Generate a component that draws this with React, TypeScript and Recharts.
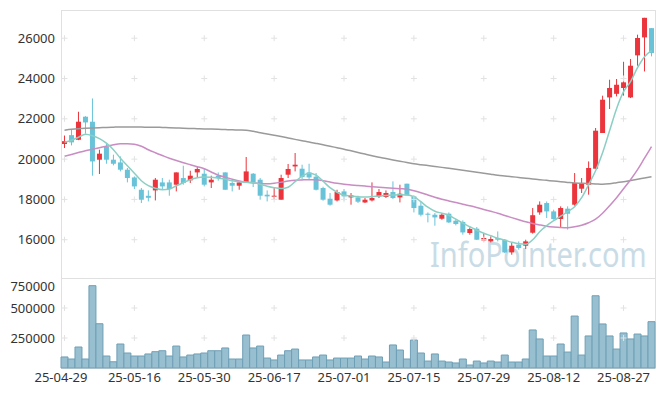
import React from 'react';
import { ComposedChart, Bar, Line, XAxis, YAxis, ReferenceDot } from 'recharts';

const dates = [
  '25-04-29', '25-04-30', '25-05-02', '25-05-07', '25-05-08', '25-05-09', '25-05-12', '25-05-13', '25-05-14', '25-05-15',
  '25-05-16', '25-05-19', '25-05-20', '25-05-21', '25-05-22', '25-05-23', '25-05-26', '25-05-27', '25-05-28', '25-05-29',
  '25-05-30', '25-06-02', '25-06-04', '25-06-05', '25-06-09', '25-06-10', '25-06-11', '25-06-12', '25-06-13', '25-06-16',
  '25-06-17', '25-06-18', '25-06-19', '25-06-20', '25-06-23', '25-06-24', '25-06-25', '25-06-26', '25-06-27', '25-06-30',
  '25-07-01', '25-07-02', '25-07-03', '25-07-04', '25-07-07', '25-07-08', '25-07-09', '25-07-10', '25-07-11', '25-07-14',
  '25-07-15', '25-07-16', '25-07-17', '25-07-18', '25-07-21', '25-07-22', '25-07-23', '25-07-24', '25-07-25', '25-07-28',
  '25-07-29', '25-07-30', '25-07-31', '25-08-01', '25-08-04', '25-08-05', '25-08-06', '25-08-07', '25-08-08', '25-08-11',
  '25-08-12', '25-08-13', '25-08-14', '25-08-18', '25-08-19', '25-08-20', '25-08-21', '25-08-22', '25-08-25', '25-08-26',
  '25-08-27', '25-08-28', '25-08-29', '25-09-01', '25-09-02',
];

const opens = [
  20750, 21190, 20960, 22105, 21856, 19970, 20630, 19970, 19836, 19474,
  19090, 18480, 18180, 18447, 18844, 18844, 18730, 19060, 18945, 19340,
  19275, 18845, 19176, 19340, 18815, 18680, 18845, 19275, 18978, 18233,
  18150, 17985, 19226, 19637, 19524, 19340, 19130, 18565, 18035, 17950,
  18397, 18100, 18100, 17850, 17950, 18150, 18120, 18367, 18100, 18780,
  18150, 17687, 17290, 17240, 17042, 17290, 16943, 16880, 16332, 16546,
  15965, 15915, 16085, 16000, 15370, 15752, 15702, 16347, 17355, 17820,
  17405, 17027, 17540, 17737, 18530, 18730, 19524, 21296, 23062, 23240,
  23530, 23062, 25150, 26040, 26500,
];
const highs = [
  21170, 21490, 22350, 22130, 23010, 20467, 20800, 20220, 20134, 19560,
  19140, 18565, 18450, 19062, 19060, 18978, 19340, 19672, 19424, 19640,
  19510, 19176, 19340, 19340, 18895, 18895, 20105, 19310, 19062, 18447,
  18565, 19226, 19757, 20303, 19722, 19770, 19310, 18630, 18318, 18480,
  18516, 18318, 18184, 18070, 18845, 18516, 18447, 18895, 18730, 18780,
  18200, 17900, 17355, 17325, 17325, 17355, 17027, 16960, 16610, 16630,
  16330, 16165, 16410, 16035, 15836, 15915, 16000, 17573, 17900, 17900,
  17490, 17655, 17655, 19310, 19062, 19886, 21544, 23147, 23940, 23975,
  24830, 24970, 26175, 27012, 26500,
];
const lows = [
  20550, 20680, 20940, 21260, 19176, 19260, 19770, 19690, 19390, 18845,
  18516, 17820, 17900, 17950, 18480, 18184, 18397, 18730, 18815, 19100,
  18645, 18565, 18930, 18480, 18397, 18480, 18815, 18615, 17985, 17900,
  17985, 17985, 19062, 19390, 18978, 18978, 18447, 17935, 17687, 17900,
  17945, 17737, 17820, 17820, 17900, 18070, 18070, 18020, 17850, 18200,
  17355, 17156, 16860, 16695, 16990, 16830, 16710, 16250, 16250, 15985,
  15915, 15865, 15915, 15340, 15255, 15505, 15540, 16300, 17240, 17077,
  16990, 16580, 16500, 17687, 18318, 18233, 19524, 21296, 22486, 23110,
  23150, 23030, 24635, 24350, 25100,
];
const closes = [
  20890, 20830, 21856, 21820, 19885, 20270, 19970, 19770, 19474, 19062,
  18645, 17985, 18080, 18978, 18645, 18516, 19340, 18815, 19176, 19510,
  18730, 18978, 19062, 18480, 18680, 18845, 19390, 18845, 18184, 18150,
  18184, 19062, 19510, 19722, 19110, 19090, 18480, 17985, 17737, 18367,
  18150, 18200, 17886, 17985, 18070, 18367, 18318, 18070, 18283, 18200,
  17573, 17240, 17240, 17107, 17240, 16860, 16780, 16362, 16530, 16000,
  16085, 16035, 16000, 15370, 15702, 15590, 15915, 17216, 17737, 17405,
  17027, 17573, 17290, 18815, 18780, 19560, 21410, 22948, 23530, 23690,
  23810, 24635, 26010, 27012, 25265,
];
const volumes = [
  92000, 75000, 175000, 75000, 686000, 369000, 100000, 52000, 200000, 125000,
  100000, 100000, 117000, 136000, 144000, 100000, 183000, 92000, 108000, 117000,
  125000, 144000, 144000, 167000, 75000, 75000, 275000, 167000, 183000, 83000,
  67000, 108000, 144000, 158000, 67000, 67000, 92000, 108000, 67000, 83000,
  83000, 83000, 100000, 75000, 100000, 92000, 50000, 192000, 150000, 75000,
  233000, 125000, 58000, 117000, 58000, 50000, 42000, 75000, 25000, 58000,
  42000, 58000, 50000, 108000, 50000, 50000, 75000, 317000, 242000, 100000,
  100000, 200000, 133000, 433000, 108000, 267000, 602000, 367000, 267000, 158000,
  292000, 242000, 283000, 267000, 386000,
];
const ma5 = [
  20839, 20938, 21087, 21236, 21162, 21013, 20789, 20467, 20045, 19673,
  19300, 18928, 18680, 18556, 18482, 18506, 18680, 18829, 18978, 19077,
  19112, 19102, 19052, 19003, 18928, 18879, 18854, 18829, 18754, 18655,
  18581, 18541, 18606, 18879, 19152, 19300, 19201, 18903, 18581, 18357,
  18209, 18169, 18134, 18124, 18144, 18174, 18194, 18218, 18233, 18223,
  18134, 17886, 17613, 17414, 17315, 17216, 17017, 16819, 16645, 16471,
  16323, 16199, 16074, 15975, 15876, 15801, 15777, 16000, 16397, 16695,
  16943, 17166, 17390, 17638, 18084, 18730, 19424, 20318, 21410, 22502,
  23345, 23842, 24536, 25082, 25380,
];
const ma20 = [
  20144, 20233, 20328, 20417, 20492, 20566, 20640, 20715, 20764, 20764,
  20740, 20640, 20467, 20318, 20179, 20045, 19931, 19822, 19722, 19623,
  19524, 19360, 19201, 19102, 19003, 18918, 18854, 18819, 18789, 18779,
  18804, 18854, 18913, 18953, 18968, 18978, 18978, 18928, 18864, 18804,
  18754, 18720, 18690, 18660, 18630, 18606, 18581, 18556, 18531, 18506,
  18432, 18333, 18218, 18109, 18010, 17926, 17846, 17762, 17687, 17598,
  17504, 17410, 17315, 17206, 17097, 16993, 16893, 16809, 16735, 16670,
  16630, 16605, 16596, 16645, 16720, 16844, 17017, 17315, 17687, 18084,
  18531, 18978, 19474, 20045, 20616,
];
const ma60 = [
  21435, 21480, 21510, 21530, 21545, 21558, 21575, 21585, 21593, 21593,
  21590, 21588, 21585, 21583, 21570, 21560, 21545, 21530, 21520, 21509,
  21500, 21490, 21480, 21465, 21455, 21445, 21435, 21380, 21310, 21250,
  21186, 21120, 21050, 20980, 20913, 20850, 20780, 20710, 20640, 20565,
  20491, 20410, 20330, 20250, 20170, 20094, 20030, 19960, 19895, 19835,
  19772, 19725, 19680, 19635, 19590, 19545, 19499, 19450, 19400, 19350,
  19300, 19250, 19201, 19165, 19130, 19090, 19050, 19015, 18978, 18945,
  18910, 18880, 18845, 18814, 18800, 18785, 18770, 18754, 18780, 18830,
  18879, 18940, 19000, 19065, 19127,
];

const dateTicks = ['25-04-29', '25-05-16', '25-05-30', '25-06-17', '25-07-01', '25-07-15', '25-07-29', '25-08-12', '25-08-27'];
const priceTicks = [16000, 18000, 20000, 22000, 24000, 26000];
const volumeTicks = [250000, 500000, 750000];

const RED = '#eb343b';
const BLUE = '#68c3d8';
const FRAME = '#e0e0e0';
const tickStyle = { fontSize: 13, fill: '#333', fontFamily: 'Noto Sans' };

const rows = dates.map((date, i) => ({
  date,
  open: opens[i],
  high: highs[i],
  low: lows[i],
  close: closes[i],
  range: [lows[i], highs[i]],
  volume: volumes[i],
  ma5: ma5[i],
  ma20: ma20[i],
  ma60: ma60[i],
}));

function Candle(props: any) {
  const { x, y, width, height, payload } = props;
  if (x == null || !payload) return null;
  const top = Math.min(y, y + height);
  const h = Math.abs(height);
  const { open, close, high, low } = payload;
  const span = high - low || 1;
  const toY = (v: number) => top + ((high - v) / span) * h;
  const color = close >= open ? RED : BLUE;
  const bodyTop = toY(Math.max(open, close));
  const bodyBot = toY(Math.min(open, close));
  const cx = x + width / 2;
  return (
    <g>
      <line x1={cx} x2={cx} y1={top} y2={top + h} stroke={color} strokeWidth={1} />
      <rect x={x} y={bodyTop} width={width} height={Math.max(bodyBot - bodyTop, 1)} fill={color} />
    </g>
  );
}

function Cross(props: any) {
  const { cx, cy } = props;
  if (cx == null || cy == null) return null;
  return (
    <g>
      <line x1={cx - 3} x2={cx + 3} y1={cy} y2={cy} stroke="#e2e2e2" />
      <line x1={cx} x2={cx} y1={cy - 3} y2={cy + 3} stroke="#e2e2e2" />
    </g>
  );
}

// first date label sits on the axis edge in the original
function DateTick(props: any) {
  const { x, y, payload } = props;
  const shift = payload.value === dateTicks[0] ? -3.5 : 0;
  return (
    <text x={x + shift} y={y} dy="0.71em" textAnchor="middle" {...tickStyle}>
      {payload.value}
    </text>
  );
}

export default function App() {
  return (
    <div style={{ position: 'absolute', left: 0, top: 0, width: 665, height: 396, background: '#fff' }}>
      <svg width={665} height={396} style={{ position: 'absolute', left: 0, top: 0 }}>
        <text
          transform="translate(430 267) scale(0.83 1)"
          fontSize={35}
          fontFamily="Noto Sans"
          fill="#c9dce6"
        >
          InfoPointer.com
        </text>
      </svg>
      <div style={{ position: 'absolute', left: 61, top: 10, width: 595, height: 269, boxSizing: 'border-box', border: `1px solid ${FRAME}` }} />
      <div style={{ position: 'absolute', left: 61, top: 278, width: 595, height: 91, boxSizing: 'border-box', border: `1px solid ${FRAME}` }} />

      <div style={{ position: 'absolute', left: 0, top: 0 }}>
        <ComposedChart width={665} height={278} data={rows} margin={{ top: 10, right: 10, bottom: 0, left: 0 }}>
          <XAxis dataKey="date" hide />
          <YAxis
            domain={[14100, 27400]}
            ticks={priceTicks}
            width={61}
            axisLine={false}
            tickLine={false}
            tickSize={0}
            tickMargin={6}
            tick={tickStyle}
          />
          {dateTicks.map((d) =>
            priceTicks.map((p) => (
              <ReferenceDot key={d + p} x={d} y={p} r={0} shape={Cross} ifOverflow="visible" />
            ))
          )}
          <Bar dataKey="range" barSize={5} shape={Candle} isAnimationActive={false} />
          <Line dataKey="ma60" type="monotone" stroke="#9a9a9a" strokeWidth={1.5} dot={false} isAnimationActive={false} />
          <Line dataKey="ma20" type="monotone" stroke="#c98cc3" strokeWidth={1.5} dot={false} isAnimationActive={false} />
          <Line dataKey="ma5" type="monotone" stroke="#8bcfc4" strokeWidth={1.5} dot={false} isAnimationActive={false} />
        </ComposedChart>
      </div>

      <div style={{ position: 'absolute', left: 0, top: 278 }}>
        <ComposedChart width={665} height={118} data={rows} barCategoryGap={0} margin={{ top: 0, right: 10, bottom: 0, left: 0 }}>
          <XAxis
            dataKey="date"
            ticks={dateTicks}
            interval={0}
            height={28}
            axisLine={false}
            tickLine={false}
            tickSize={0}
            tickMargin={5}
            tick={DateTick}
          />
          <YAxis
            domain={[0, 750000]}
            ticks={volumeTicks}
            width={61}
            axisLine={false}
            tickLine={false}
            tickSize={0}
            tickMargin={6}
            tick={tickStyle}
          />
          {dateTicks.map((d) =>
            volumeTicks.slice(0, 2).map((v) => (
              <ReferenceDot key={d + v} x={d} y={v} r={0} shape={Cross} ifOverflow="visible" />
            ))
          )}
          <Bar dataKey="volume" fill="#97bfd0" stroke="#6f9fb5" strokeWidth={1} isAnimationActive={false} />
        </ComposedChart>
      </div>
    </div>
  );
}
